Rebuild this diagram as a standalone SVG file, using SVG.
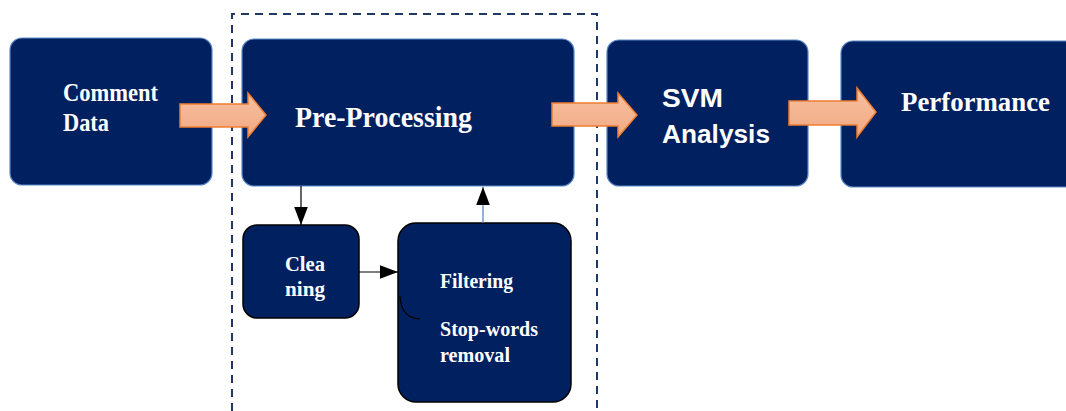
<svg xmlns="http://www.w3.org/2000/svg" width="1066" height="411" viewBox="0 0 1066 411">
  <defs>
    <style>
      .box { fill: #002060; stroke: #5b87c5; stroke-width: 1.2; }
      .sub { fill: #002060; stroke: #000; stroke-width: 1.5; }
      .serif { font-family: "Liberation Serif", "Times New Roman", serif; font-weight: bold; fill: #fff; }
      .sans { font-family: "Liberation Sans", Arial, sans-serif; font-weight: bold; fill: #fff; }
      .flow { fill: url(#peach); stroke: #ed7d31; stroke-width: 1.5; }
      .link { stroke: #000; stroke-width: 1.2; fill: none; }
    </style>
    <linearGradient id="peach" x1="0" y1="0" x2="0" y2="1">
      <stop offset="0" stop-color="#f7c0a0"/>
      <stop offset="1" stop-color="#f2a983"/>
    </linearGradient>
    <marker id="tri" viewBox="0 0 10 10" refX="10" refY="5" markerWidth="18" markerHeight="18" markerUnits="userSpaceOnUse" orient="auto">
      <path d="M0,1.2 L10,5 L0,8.8 Z" fill="#000"/>
    </marker>
  </defs>

  <!-- pre-processing stage boundary -->
  <path d="M232,411 V14 H597 V411" fill="none" stroke="#1f3864" stroke-width="2" stroke-dasharray="8,6"/>

  <g id="comment-data">
    <rect class="box" x="10" y="38" width="202" height="147" rx="12"/>
    <text class="serif" font-size="25" x="63" y="101" textLength="95" lengthAdjust="spacingAndGlyphs">Comment</text>
    <text class="serif" font-size="25" x="63" y="131" textLength="46" lengthAdjust="spacingAndGlyphs">Data</text>
  </g>

  <g id="pre-processing">
    <rect class="box" x="242" y="39" width="332" height="147" rx="12"/>
    <text class="serif" font-size="30" x="295" y="127" textLength="177" lengthAdjust="spacingAndGlyphs">Pre-Processing</text>
  </g>

  <g id="svm-analysis">
    <rect class="box" x="607" y="40" width="201" height="146" rx="12"/>
    <text class="sans" font-size="25" x="662" y="107" textLength="61" lengthAdjust="spacingAndGlyphs">SVM</text>
    <text class="sans" font-size="25" x="662" y="143" textLength="108" lengthAdjust="spacingAndGlyphs">Analysis</text>
  </g>

  <g id="performance">
    <rect class="box" x="841" y="41" width="240" height="146" rx="12"/>
    <text class="serif" font-size="27" x="901" y="111" textLength="149" lengthAdjust="spacingAndGlyphs">Performance</text>
  </g>

  <g id="cleaning">
    <rect class="sub" x="243" y="225" width="116" height="93" rx="14"/>
    <text class="serif" font-size="22" x="285" y="271" textLength="40" lengthAdjust="spacingAndGlyphs">Clea</text>
    <text class="serif" font-size="22" x="285" y="296" textLength="40" lengthAdjust="spacingAndGlyphs">ning</text>
  </g>

  <g id="filtering">
    <rect class="sub" x="398" y="223" width="173" height="179" rx="18"/>
    <path d="M400,296 Q401,318 420,319" fill="none" stroke="#000" stroke-width="1.2"/>
    <text class="serif" font-size="21" x="440" y="288" textLength="73" lengthAdjust="spacingAndGlyphs">Filtering</text>
    <text class="serif" font-size="21" x="440" y="336" textLength="98" lengthAdjust="spacingAndGlyphs">Stop-words</text>
    <text class="serif" font-size="21" x="440" y="362" textLength="70" lengthAdjust="spacingAndGlyphs">removal</text>
  </g>

  <g id="connectors">
    <!-- block arrows between main stages -->
    <path class="flow" d="M180,104 H248 V93 L266,115 L248,137 V127 H180 Z"/>
    <path class="flow" d="M552,103 H618 V93 L637,115 L618,137 V126 H552 Z"/>
    <path class="flow" d="M789,101 H857 V88 L876,112 L857,137 V125 H789 Z"/>
    <!-- sub-step links -->
    <line class="link" x1="301" y1="186" x2="301" y2="225" marker-end="url(#tri)"/>
    <line class="link" x1="359" y1="272" x2="398" y2="272" marker-end="url(#tri)"/>
    <line x1="483" y1="223" x2="483" y2="187" stroke="#4a7ebb" stroke-width="1.2" marker-end="url(#tri)"/>
  </g>
</svg>
